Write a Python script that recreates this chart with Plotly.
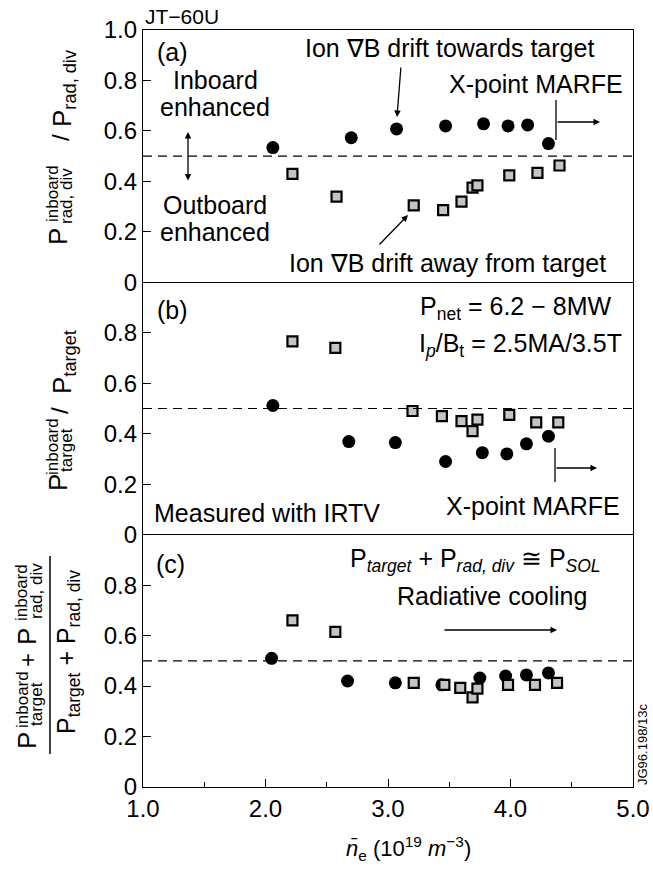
import plotly.graph_objects as go
from plotly.subplots import make_subplots

# ---------------- data ----------------
# (a) P_rad,div inboard fraction
a_toward_x = [2.06, 2.70, 3.07, 3.47, 3.78, 3.98, 4.14, 4.31]
a_toward_y = [0.534, 0.573, 0.608, 0.620, 0.628, 0.620, 0.624, 0.550]
a_away_x = [2.22, 2.58, 3.21, 3.45, 3.60, 3.69, 3.73, 3.99, 4.22, 4.40]
a_away_y = [0.430, 0.340, 0.305, 0.286, 0.320, 0.375, 0.384, 0.424, 0.434, 0.463]

# (b) P_target inboard fraction
b_toward_x = [2.06, 2.68, 3.06, 3.47, 3.77, 3.97, 4.13, 4.31]
b_toward_y = [0.512, 0.369, 0.365, 0.290, 0.325, 0.320, 0.360, 0.390]
b_away_x = [2.22, 2.57, 3.20, 3.44, 3.60, 3.69, 3.73, 3.99, 4.21, 4.39]
b_away_y = [0.766, 0.740, 0.490, 0.470, 0.450, 0.410, 0.456, 0.475, 0.445, 0.445]

# (c) total inboard fraction
c_toward_x = [2.05, 2.67, 3.06, 3.44, 3.75, 3.96, 4.13, 4.31]
c_toward_y = [0.510, 0.420, 0.413, 0.405, 0.432, 0.440, 0.444, 0.452]
c_away_x = [2.22, 2.57, 3.21, 3.46, 3.59, 3.69, 3.73, 3.98, 4.20, 4.38]
c_away_y = [0.660, 0.615, 0.413, 0.405, 0.393, 0.355, 0.390, 0.405, 0.405, 0.413]

y_ticks_top = [0, 0.2, 0.4, 0.6, 0.8, 1.0]
y_labels_top = ["0", "0.2", "0.4", "0.6", "0.8", "1.0"]
y_ticks = [0, 0.2, 0.4, 0.6, 0.8]
y_labels = ["0", "0.2", "0.4", "0.6", "0.8"]
x_ticks = [1.0, 2.0, 3.0, 4.0, 5.0]
x_labels = ["1.0", "2.0", "3.0", "4.0", "5.0"]

FONT = "Liberation Sans, Arial, Helvetica, sans-serif"
W, H = 653, 872
L, R, T, B = 143, 20, 30, 85
PW, PH = W - L - R, H - T - B

fig = make_subplots(rows=3, cols=1, shared_xaxes=True, vertical_spacing=0)

panels = [(a_toward_x, a_toward_y, a_away_x, a_away_y),
          (b_toward_x, b_toward_y, b_away_x, b_away_y),
          (c_toward_x, c_toward_y, c_away_x, c_away_y)]
for i, (tx, ty, ax_, ay_) in enumerate(panels, start=1):
    fig.add_trace(go.Scatter(x=tx, y=ty, mode="markers",
                             marker=dict(symbol="circle", size=13, color="black",
                                         line=dict(width=0)),
                             showlegend=False, hoverinfo="skip"), row=i, col=1)
    fig.add_trace(go.Scatter(x=ax_, y=ay_, mode="markers",
                             marker=dict(symbol="square", size=10, color="#c4c4c4",
                                         line=dict(width=2.2, color="black")),
                             showlegend=False, hoverinfo="skip"), row=i, col=1)
    # dashed 0.5 line
    fig.add_shape(type="line", x0=1, x1=5, y0=0.5, y1=0.5,
                  xref="x" if i == 1 else f"x{i}", yref="y" if i == 1 else f"y{i}",
                  line=dict(color="black", width=1.1, dash="9px,6px"))

axis_common = dict(linecolor="black", linewidth=1.4, mirror=True,
                   showgrid=False, zeroline=False, automargin=False)
for i in range(1, 4):
    fig.update_yaxes(range=[0, 1], ticks="inside", ticklen=8, tickcolor="black",
                     tickwidth=1.2, showline=True,
                     tickvals=y_ticks_top if i == 1 else y_ticks,
                     ticktext=y_labels_top if i == 1 else y_labels,
                     tickfont=dict(family=FONT, size=24, color="black"),
                     row=i, col=1, **axis_common)
    if i < 3:
        fig.update_xaxes(range=[1, 5], ticks="", showticklabels=False,
                         showline=(i == 1), row=i, col=1, **axis_common)
    else:
        fig.update_xaxes(range=[1, 5], ticks="inside", ticklen=8, tickcolor="black",
                         tickwidth=1.2, tickvals=x_ticks, ticktext=x_labels,
                         showline=True,
                         tickfont=dict(family=FONT, size=24, color="black"),
                         minor=dict(ticks="inside", ticklen=5, dtick=0.5,
                                    tickcolor="black", tickwidth=1.2),
                         row=i, col=1, **axis_common)


def pp(px, py):
    return (px - L) / PW, (H - B - py) / PH


anns = []


def txt(text, px, py, size=25, xanchor="center", angle=0):
    x, y = pp(px, py)
    anns.append(dict(x=x, y=y, xref="paper", yref="paper", text=text, showarrow=False,
                     xanchor=xanchor, yanchor="middle", textangle=angle,
                     font=dict(family=FONT, size=size, color="black")))


def arrow(x0, y0, x1, y1, both=False):
    x, y = pp(x1, y1)
    anns.append(dict(x=x, y=y, xref="paper", yref="paper", text="", showarrow=True,
                     ax=x0 - x1, ay=y0 - y1, axref="pixel", ayref="pixel",
                     arrowhead=2, arrowsize=1, arrowwidth=1.3, arrowcolor="black",
                     arrowside="end+start" if both else "end", startarrowhead=2,
                     startarrowsize=1))


def pline(x0, y0, x1, y1, width=1.3):
    a0, b0 = pp(x0, y0)
    a1, b1 = pp(x1, y1)
    fig.add_shape(type="line", xref="paper", yref="paper", x0=a0, y0=b0, x1=a1, y1=b1,
                  line=dict(color="black", width=width))


# header
txt("JT\u221260U", 143, 16, size=21, xanchor="left")
txt("JG96.198/13c", 642, 745, size=13, angle=-90)

# panel (a)
txt("(a)", 172, 52)
txt("Ion \u2207B drift towards target", 449, 48)
arrow(401, 66, 397, 117)
txt("X-point MARFE", 536, 84)
pline(556, 100, 556, 140)
arrow(556, 122, 600, 122)
txt("Inboard", 215, 80)
txt("enhanced", 215, 107)
arrow(188, 182, 188, 132, both=True)
txt("Outboard", 215, 205)
txt("enhanced", 215, 232)
txt("Ion \u2207B drift away from target", 447, 263)
arrow(378, 246, 408, 215)

# panel (b)
txt("(b)", 172, 310)
txt("P<sub>net</sub> = 6.2 \u2212 8MW", 613, 308, xanchor="right")
txt("I<sub><i>p</i></sub>/B<sub>t</sub> = 2.5MA/3.5T", 624, 345, xanchor="right")
txt("X-point MARFE", 533, 506)
pline(555, 448, 555, 482)
arrow(555, 468, 597, 468)
txt("Measured with IRTV", 152, 513, xanchor="left")

# panel (c)
txt("P<sub><i>target</i></sub> + P<sub><i>rad, div</i></sub> \u2245 P<sub><i>SOL</i></sub>",
    475, 560)
txt("(c)", 170, 564)
txt("Radiative cooling", 492, 596)
arrow(443, 630, 557, 630)

# y-axis titles (rotated, stacked scripts)
# (a)
txt("P", 58, 237, size=26, angle=-90)
txt("inboard", 52, 194, size=17, angle=-90)
txt("rad, div", 66, 196, size=17, angle=-90)
txt("/", 60, 138, size=24, angle=-90)
txt("P<sub>rad, div</sub>", 63, 88, size=26, angle=-90)
# (b)
txt("P", 58, 483, size=26, angle=-90)
txt("inboard", 52, 447, size=17, angle=-90)
txt("target", 66, 450, size=17, angle=-90)
txt("/", 60, 411, size=24, angle=-90)
txt("P<sub>target</sub>", 63, 362, size=26, angle=-90)
# (c) numerator
txt("P", 27, 741, size=26, angle=-90)
txt("inboard", 22, 700, size=17, angle=-90)
txt("target", 36, 704, size=17, angle=-90)
txt("+", 27, 660, size=24, angle=-90)
txt("P", 27, 637, size=26, angle=-90)
txt("inboard", 22, 593, size=17, angle=-90)
txt("rad, div", 36, 591, size=17, angle=-90)
# fraction bar
pline(50, 556, 50, 754, width=1.5)
# denominator
txt("P<sub>target</sub> + P<sub>rad, div</sub>", 68, 652, size=25, angle=-90)

# x-axis title
txt("<i>n\u0304</i><sub>e</sub> (10<sup>19</sup> <i>m</i><sup>\u22123</sup>)", 408, 848, size=22)

fig.update_layout(width=W, height=H, margin=dict(l=L, r=R, t=T, b=B, autoexpand=False),
                  paper_bgcolor="white", plot_bgcolor="white", annotations=anns,
                  font=dict(family=FONT, color="black"))

fig.write_html("out.html")
